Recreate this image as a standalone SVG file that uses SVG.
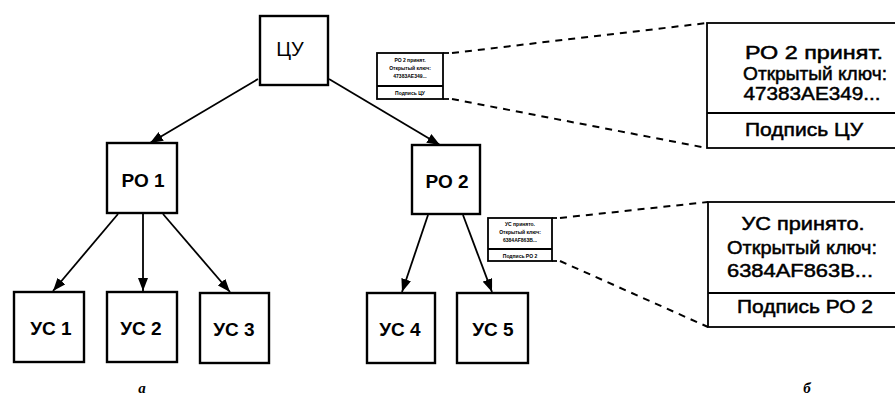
<svg xmlns="http://www.w3.org/2000/svg" width="895" height="397" viewBox="0 0 895 397">
<style>
.node{fill:#fff;stroke:#000;stroke-width:2.4}
.lbl{font-family:"Liberation Sans",Arial,sans-serif;font-size:19px;font-weight:bold;text-anchor:middle;fill:#000}
.edge{stroke:#000;stroke-width:1.8;fill:none}
.dash{stroke:#000;stroke-width:2;fill:none;stroke-dasharray:7 6}
.card{fill:#fff;stroke:#000;stroke-width:1.8}
.ct{font-family:"Liberation Sans",Arial,sans-serif;font-size:19px;text-anchor:middle;fill:#000;stroke:#000;stroke-width:0.5}
.st{font-family:"Liberation Sans",Arial,sans-serif;font-size:5px;font-weight:bold;text-anchor:middle;fill:#000}
.cap{font-family:"Liberation Serif","Times New Roman",serif;font-size:15px;font-style:italic;font-weight:bold;text-anchor:middle;fill:#000}
</style>
<defs>
<marker id="ah" viewBox="0 0 13 10" refX="13" refY="5" markerWidth="13" markerHeight="10" markerUnits="userSpaceOnUse" orient="auto">
<path d="M0,0 L13,5 L0,10 Z" fill="#000"/>
</marker>
</defs>
<rect width="895" height="397" fill="#fff"/>

<g id="connectors">
<line class="edge" x1="258" y1="79" x2="150" y2="143" marker-end="url(#ah)"/>
<line class="edge" x1="329" y1="79" x2="440" y2="145" marker-end="url(#ah)"/>
<line class="edge" x1="118" y1="214" x2="53" y2="291" marker-end="url(#ah)"/>
<line class="edge" x1="143" y1="214" x2="143" y2="291" marker-end="url(#ah)"/>
<line class="edge" x1="163" y1="214" x2="230" y2="292" marker-end="url(#ah)"/>
<line class="edge" x1="428" y1="215" x2="402" y2="292" marker-end="url(#ah)"/>
<line class="edge" x1="463" y1="215" x2="492" y2="292" marker-end="url(#ah)"/>
<line class="dash" x1="452" y1="53" x2="707" y2="23"/>
<line class="dash" x1="452" y1="99" x2="707" y2="148"/>
<line class="dash" x1="560" y1="218" x2="708" y2="202"/>
<line class="dash" x1="560" y1="261" x2="708" y2="327"/>
</g>

<g id="cu">
<rect class="node" x="260" y="16" width="68" height="69"/>
<text class="lbl" x="290" y="56" style="font-weight:normal;font-size:20px">ЦУ</text>
</g>
<g id="ro1">
<rect class="node" x="107" y="143" width="70" height="70"/>
<text class="lbl" x="143" y="187">РО 1</text>
</g>
<g id="ro2">
<rect class="node" x="412" y="145" width="68" height="69"/>
<text class="lbl" x="447" y="188">РО 2</text>
</g>
<g id="us1">
<rect class="node" x="14" y="292" width="70" height="70"/>
<text class="lbl" x="51" y="335">УС 1</text>
</g>
<g id="us2">
<rect class="node" x="107" y="292" width="70" height="70"/>
<text class="lbl" x="141" y="335">УС 2</text>
</g>
<g id="us3">
<rect class="node" x="200" y="293" width="69" height="70"/>
<text class="lbl" x="234" y="336">УС 3</text>
</g>
<g id="us4">
<rect class="node" x="367" y="293" width="68" height="70"/>
<text class="lbl" x="400" y="336">УС 4</text>
</g>
<g id="us5">
<rect class="node" x="457" y="293" width="71" height="70"/>
<text class="lbl" x="493" y="336">УС 5</text>
</g>

<g id="card1-small">
<rect class="card" x="377" y="53" width="66" height="46"/>
<line class="card" x1="377" y1="86" x2="443" y2="86"/>
<line class="card" x1="443" y1="53" x2="449" y2="53"/>
<line class="card" x1="443" y1="99" x2="449" y2="99"/>
<text class="st" x="410" y="62">РО 2 принят.</text>
<text class="st" x="410" y="70">Открытый ключ:</text>
<text class="st" x="410" y="78">47383AE349...</text>
<text class="st" x="410" y="95">Подпись ЦУ</text>
</g>
<g id="card1-big">
<rect class="card" x="707" y="23" width="200" height="125"/>
<line class="card" x1="707" y1="113" x2="895" y2="113"/>
<text class="ct" x="814" y="59" textLength="138" lengthAdjust="spacingAndGlyphs">РО 2 принят.</text>
<text class="ct" x="815" y="80" textLength="144" lengthAdjust="spacingAndGlyphs">Открытый ключ:</text>
<text class="ct" x="812" y="100" textLength="137" lengthAdjust="spacingAndGlyphs">47383AE349...</text>
<text class="ct" x="804" y="136" textLength="118" lengthAdjust="spacingAndGlyphs">Подпись ЦУ</text>
</g>

<g id="card2-small">
<rect class="card" x="488" y="218" width="64" height="43"/>
<line class="card" x1="488" y1="249" x2="552" y2="249"/>
<line class="card" x1="552" y1="218" x2="557" y2="218"/>
<line class="card" x1="552" y1="261" x2="557" y2="261"/>
<text class="st" x="520" y="226">УС принято.</text>
<text class="st" x="520" y="234">Открытый ключ:</text>
<text class="st" x="520" y="242">6384AF863B...</text>
<text class="st" x="520" y="258">Подпись РО 2</text>
</g>
<g id="card2-big">
<rect class="card" x="708" y="202" width="200" height="125"/>
<line class="card" x1="708" y1="293" x2="895" y2="293"/>
<text class="ct" x="803" y="230" textLength="123" lengthAdjust="spacingAndGlyphs">УС принято.</text>
<text class="ct" x="802" y="254" textLength="150" lengthAdjust="spacingAndGlyphs">Открытый ключ:</text>
<text class="ct" x="800" y="277" textLength="146" lengthAdjust="spacingAndGlyphs">6384AF863B...</text>
<text class="ct" x="805" y="313" textLength="136" lengthAdjust="spacingAndGlyphs">Подпись РО 2</text>
</g>

<text class="cap" x="142" y="393">а</text>
<text class="cap" x="807" y="393">б</text>
</svg>
